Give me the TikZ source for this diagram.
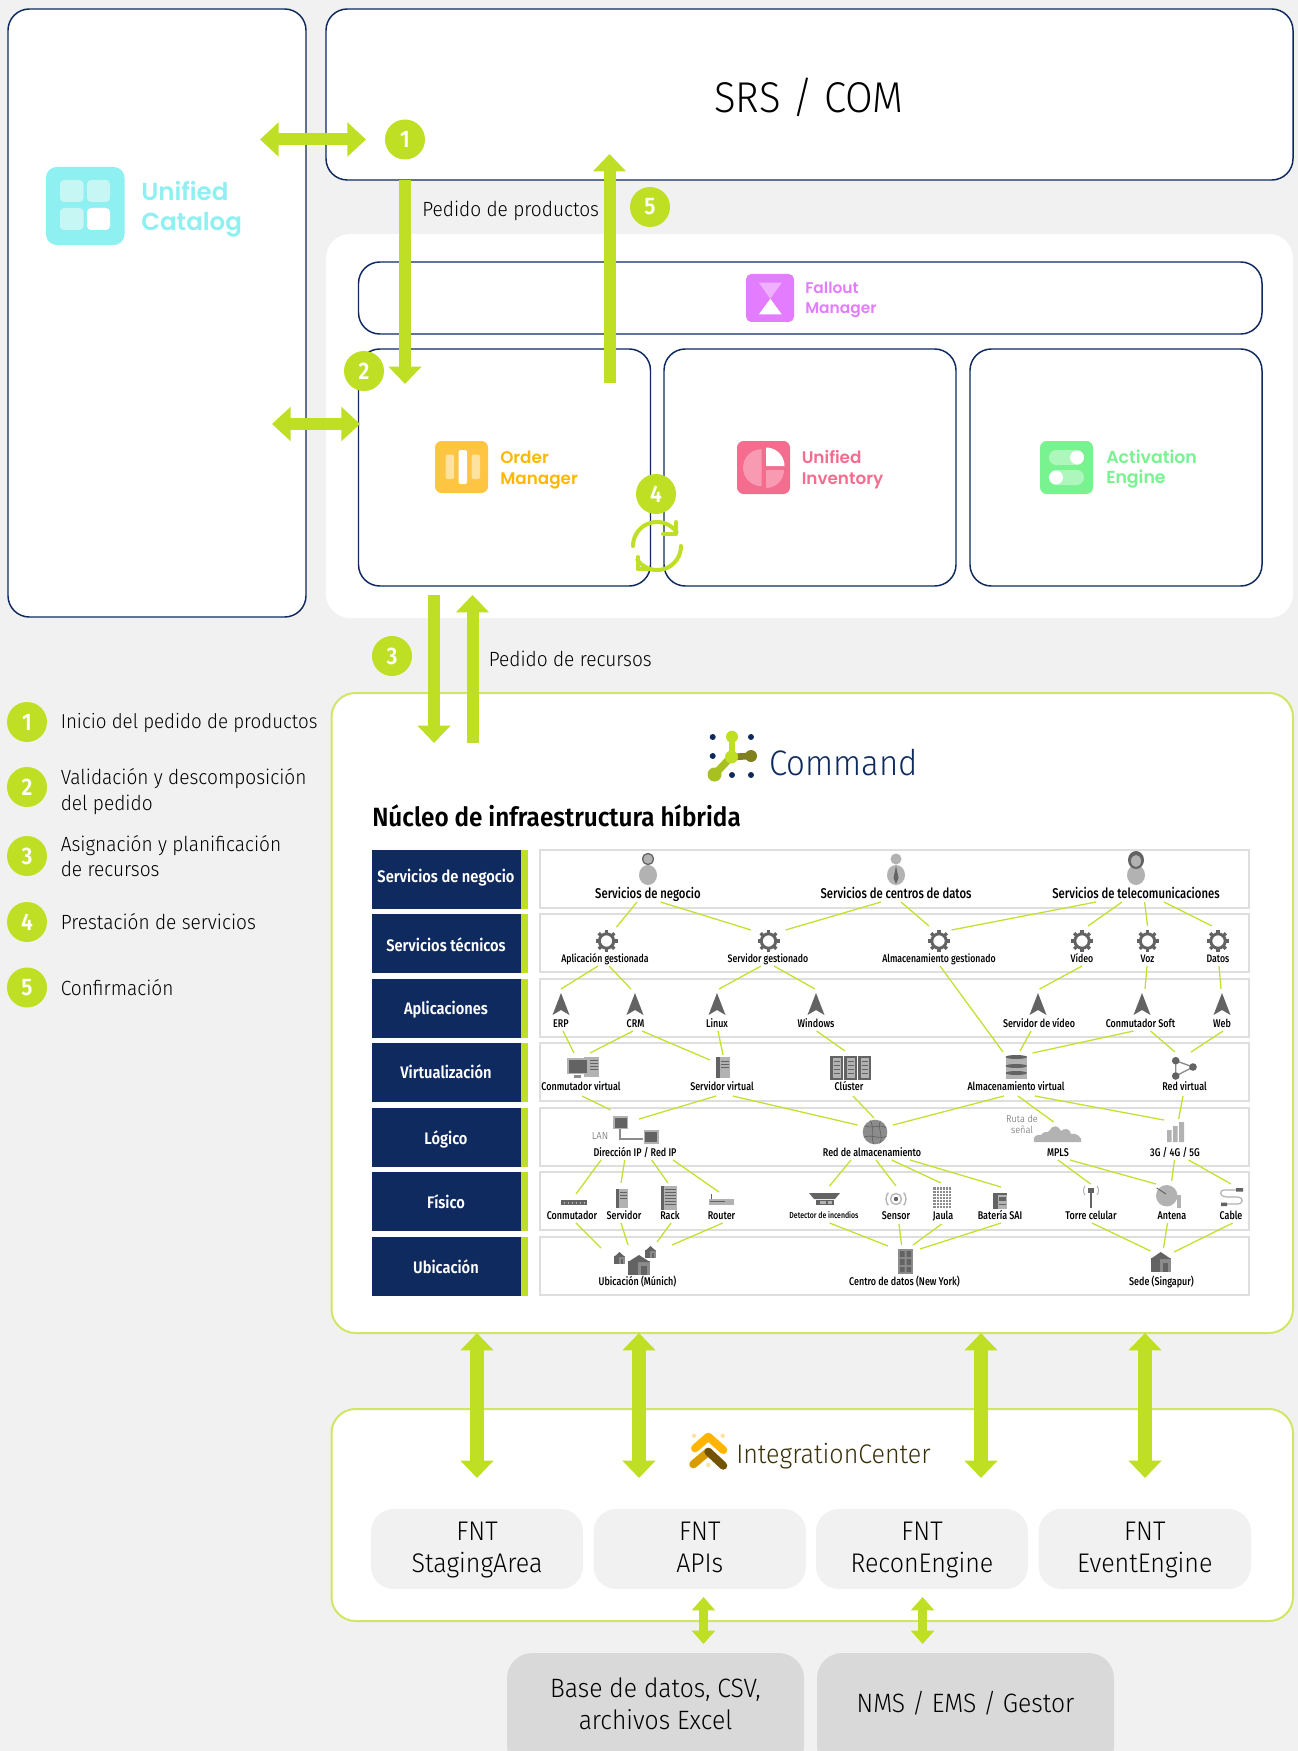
\documentclass[tikz,border=0pt]{standalone}
\usepackage{fontspec}
\usetikzlibrary{arrows.meta,calc}
\setmainfont[FakeStretch=.93]{Fira Sans Light}
\newfontfamily\fb[FakeStretch=.8]{Fira Sans Medium}
\newfontfamily\fh[FakeStretch=.88]{Fira Sans SemiBold}
\newfontfamily\ft[FakeStretch=.92]{Fira Sans SemiBold}
\newfontfamily\pop{Poppins SemiBold}
\definecolor{bgc}{HTML}{F1F1F1}
\definecolor{navy}{HTML}{0F2A5F}
\definecolor{lime}{HTML}{BEDF23}
\definecolor{limeb}{HTML}{CFE763}
\definecolor{linec}{HTML}{C3E02E}
\definecolor{rowb}{HTML}{DEDEDE}
\definecolor{gD}{HTML}{636363}
\definecolor{gM}{HTML}{8C8C8C}
\definecolor{gL}{HTML}{B2B2B2}
\definecolor{cat}{HTML}{8EF0F0}
\definecolor{catp}{HTML}{C6F7F5}
\definecolor{ord}{HTML}{FDC542}
\definecolor{ordt}{HTML}{FFB800}
\definecolor{ordp}{HTML}{FDE2A0}
\definecolor{fal}{HTML}{E37CFF}
\definecolor{falp}{HTML}{EEB0FF}
\definecolor{inv}{HTML}{F46D8F}
\definecolor{invp}{HTML}{F79AB2}
\definecolor{act}{HTML}{79F290}
\definecolor{actp}{HTML}{AEF7BC}
\definecolor{olv}{HTML}{80801F}
\definecolor{lmd}{HTML}{A8C020}
\definecolor{ictx}{HTML}{3A3008}
\tikzset{
  panelnavy/.style={rectangle,draw=navy,line width=1.1pt,fill=white,rounded corners=16pt,inner sep=0},
  panelwhite/.style={rectangle,fill=white,rounded corners=18pt,inner sep=0},
  panellime/.style={rectangle,draw=limeb,line width=1.5pt,fill=white,rounded corners=18pt,inner sep=0},
  fntbox/.style={rectangle,fill=bgc,rounded corners=17pt,inner sep=0},
  fnttxt/.style={inner sep=0,align=center,font=\fontsize{20.2}{24}\selectfont},
  extbox/.style={rectangle,fill=black!15,rounded corners=19pt,inner sep=0},
  rowhead/.style={rectangle,fill=navy,inner sep=0},
  rowbody/.style={rectangle,fill=white,draw=rowb,line width=.9pt,inner sep=0},
  badge/.style={circle,fill=lime,minimum size=30pt,inner sep=0,text=white,font=\fh\fontsize{18}{20}\selectfont},
  txt/.style={inner sep=0,anchor=west,font=\fontsize{15.4}{19}\selectfont,align=left,text=black},
  lbl/.style={inner sep=0,anchor=center,text height=6pt,text depth=1.5pt,font=\fb\fontsize{8.4}{10}\selectfont},
  applbl/.style={inner sep=0,anchor=west,align=left},
  lk/.style={draw=linec,line width=.95pt},
  hsarr/.style={draw=lime,line width=9pt,{Triangle[length=14pt,width=25pt]}-{Triangle[length=14pt,width=25pt]}},
  bigarr/.style={draw=lime,line width=10pt,{Triangle[length=13pt,width=24pt]}-{Triangle[length=13pt,width=24pt]}},
  onearr/.style={draw=lime,line width=9pt,-{Triangle[length=13pt,width=24pt]}},
  smallarr/.style={draw=lime,line width=7pt,{Triangle[length=10pt,width=17pt]}-{Triangle[length=10pt,width=17pt]}}
}
\newcommand\bx[7]{\node[#1,minimum width={(#4-#2)*.75pt},minimum height={(#5-#3)*.75pt}] (#6) at ({(#2+#4)/2},{(#3+#5)/2}) {#7};}
\newcommand\lk[6]{\draw[lk] ([shift={(#2,#3)}]#1.center) -- ([shift={(#5,#6)}]#4.center);}
\newcommand\rr[6][1.5pt]{\fill[#6,rounded corners=#1] (#2,#3) rectangle (#4,#5);}
\newcommand\gearic[2]{\begin{scope}[shift={(#1,#2)}]
  \draw[gD,line width=2.2pt] (0,0) circle[radius=7.2];
  \foreach \a in {0,45,...,315}{\draw[gD,line width=2.4pt] ({8*cos(\a)},{8*sin(\a)}) -- ({11*cos(\a)},{11*sin(\a)});}
\end{scope}}
\newcommand\navic[1]{\fill[gD] (#1,993) -- (#1+8.5,1015) -- (#1,1010) -- (#1-8.5,1015) -- cycle;}
\newcommand\house[5]{\fill[gM] (#1,#3) rectangle (#2,#4);
  \fill[gD] (#1,#3) rectangle ({#1+(#2-#1)*.45},#4);
  \fill[gD] ({(#1+#2)/2},{#3-#5}) -- (#2,#3+1) -- (#1,#3+1) -- cycle;
  \fill[gD] ({#1+(#2-#1)*.6},{#3+(#4-#3)*.35}) rectangle ({#1+(#2-#1)*.85},#4);}
\newcommand\sect[6]{\fill[#6] plot[domain=#4:#5,samples=14] ({#1+#3*cos(\x)},{#2-#3*sin(\x)}) -- (#1,#2) -- cycle;}
\begin{document}
\begin{tikzpicture}[x=.75pt,y=-.75pt]
\useasboundingbox (0,0) rectangle (1298,1751);
\clip (0,0) rectangle (1298,1751);
\fill[bgc] (0,0) rectangle (1298,1751);
% panels
\bx{panelnavy}{8}{9}{306}{617}{catalog}{}
\bx{panelnavy}{326}{9}{1293}{180}{srs}{}
\node[inner sep=0,font=\fontsize{32.3}{36}\selectfont] (tsrs) at (809,97) {SRS / COM};
\bx{panelwhite}{326}{234}{1293}{618}{om}{}
\bx{panelnavy}{358.5}{262}{1262}{334}{fallout}{}
\bx{panelnavy}{358.5}{349}{650.5}{586}{order}{}
\bx{panelnavy}{664}{349}{956}{586}{inventory}{}
\bx{panelnavy}{970}{349}{1262}{586}{activation}{}
\bx{panellime}{331.5}{693}{1293}{1333}{command}{}
\bx{panellime}{331.5}{1409}{1293}{1621}{integration}{}
% catalog logo
\rr[8pt]{46}{167}{124.5}{245}{cat}
\rr[3pt]{60}{180}{83.5}{202}{catp}\rr[3pt]{87}{180}{110}{202}{catp}
\rr[3pt]{60}{208}{83.5}{230}{catp}\rr[3pt]{87}{208}{110}{230}{white}
\node[applbl,text=cat,font=\pop\fontsize{18.4}{22.6}\selectfont] (tcat) at (141,209.5) {Unified\\Catalog};
% fallout logo
\rr[4pt]{746}{274}{794}{322}{fal}
\fill[falp] (758.8,282.7) -- (781.8,282.7) -- (770.3,298.7) -- cycle;
\fill[white] (770.3,298.7) -- (781.8,314.5) -- (758.8,314.5) -- cycle;
\node[applbl,text=fal,font=\pop\fontsize{11.6}{14.6}\selectfont] (tfal) at (805,300) {Fallout\\Manager};
% order logo
\rr[5pt]{435}{441}{488}{493}{ord}
\rr[1.5pt]{445.5}{454.5}{454}{479}{ordp}\rr[1.5pt]{458.5}{450}{467}{484}{white}\rr[1.5pt]{471.5}{454.5}{480}{479}{ordp}
\node[applbl,text=ordt,font=\pop\fontsize{12.6}{15.4}\selectfont] (tord) at (500,470) {Order\\Manager};
% inventory logo
\rr[5pt]{737}{441}{790}{494}{inv}
\sect{761.5}{467.7}{18.5}{90}{270}{invp}
\sect{766}{466}{18.5}{0}{90}{white}
\sect{766}{470}{18}{-90}{0}{invp}
\node[applbl,text=inv,font=\pop\fontsize{12.6}{15.4}\selectfont] (tinv) at (801.5,469.5) {Unified\\Inventory};
% activation logo
\rr[5pt]{1040}{441}{1093}{494}{act}
\rr[5.5pt]{1049}{450}{1084}{465}{actp}\fill[white] (1077,457.5) circle[radius=7];
\rr[5.5pt]{1049}{470}{1084}{485}{actp}\fill[white] (1056,477.5) circle[radius=7];
\node[applbl,text=act,font=\pop\fontsize{13}{15.4}\selectfont] (tact) at (1106,469) {Activation\\Engine};
% command logo
\fill[navy] (712.7,737) circle[radius=3] (751,737) circle[radius=3] (712.7,756) circle[radius=3] (732,775) circle[radius=3] (751,775) circle[radius=3];
\draw[line width=5pt,line cap=round,color=olv] (733,757) -- (749,756);
\fill[olv] (751,756) circle[radius=6];
\draw[line width=5.5pt,line cap=round,color=lmd] (731,757) -- (716,773);
\fill[lmd] (714.5,774.5) circle[radius=7];
\draw[line width=4.5pt,line cap=round,color=lime] (732,738) -- (732,757);
\fill[lime] (732,736.7) circle[radius=6] (731.5,757) circle[radius=6.5];
\node[inner sep=0,anchor=west,text=navy,font=\fontsize{26.6}{30}\selectfont] (tcmd) at (769,763) {Command};
\node[inner sep=0,anchor=west,font=\ft\fontsize{19.8}{22}\selectfont] (ttl) at (372,816) {Núcleo de infraestructura híbrida};
% table
\foreach \nm/\tt/\yA/\yB/\yC in {a/Servicios de negocio/850/909/878,b/Servicios técnicos/914/973/945,c/Aplicaciones/979/1038/1010,d/Virtualización/1043/1102/1072,e/Lógico/1108/1167/1139,f/Físico/1172/1231/1202,g/Ubicación/1237/1296/1267}{
  \bx{rowbody}{540}{\yA}{1249}{\yB-1}{body\nm}{}
  \bx{rowhead}{372}{\yA}{521}{\yB}{head\nm}{}
  \fill[lime] (521,\yA) rectangle (528,\yB);
  \node[inner sep=0,text=white,font=\fh\fontsize{12.5}{14}\selectfont] (txt\nm) at (446,\yC) {\tt};
}
% row 1 icons
\foreach \px in {648,896,1136}{\fill[gL] (\px,875) ellipse[x radius=9,y radius=10];}
\fill[gL] (648,859) circle[radius=6]; \draw[gD,line width=.9pt] (648,859) circle[radius=5.5];
\fill[gL] (896,859) circle[radius=5.5]; \fill[gD] (896,866) -- (898.5,878) -- (896,884) -- (893.5,878) -- cycle;
\fill[gD] (1136,860) ellipse[x radius=8,y radius=9]; \fill[gL] (1136,861) ellipse[x radius=5,y radius=6];
% row 2 gears
\foreach \px in {606.5,768.5,939,1082,1147.5,1218}{\gearic{\px}{941}}
% row 3 arrows
\foreach \px in {561,635,717,816,1038,1142,1222}{\navic{\px}}
% row 4 icons
\fill[gL] (584,1057) rectangle (599,1077); \foreach \yy in {1060,1063,1066,1069}{\draw[gD,line width=.5pt] (590,\yy) -- (598,\yy);}
\fill[gL] (567,1058) rectangle (589,1074); \fill[gD] (569,1060) rectangle (587,1073);\fill[gM] (574,1075) rectangle (581,1078);
\fill[gL] (716,1057) rectangle (730,1078); \fill[gD] (716,1057) rectangle (720,1078); \draw[gD,line width=.6pt] (721,1061) -- (729,1061) (721,1064) -- (729,1064) (721,1067) -- (729,1067);
\foreach \px in {829.5,843.5,857.5}{\fill[gD] (\px,1056) rectangle (\px+13,1080); \fill[gL] (\px+3,1058) rectangle (\px+11,1078); \foreach \yy in {1061,1065,1069,1073}{\draw[gD,line width=.5pt] (\px+4,\yy) -- (\px+10,\yy);}}
\fill[gL] (1005.5,1056) rectangle (1027,1079);
\foreach \yy in {1057,1066,1073}{\fill[gD] (1016.25,\yy) ellipse[x radius=10.7,y radius=2];}
\draw[gM,line width=1pt] (1175.7,1060.7) -- (1193,1067) -- (1175.7,1076) -- cycle;
\fill[gD] (1175.7,1060.7) circle[radius=3.8] (1193,1067) circle[radius=3.8] (1175.7,1076) circle[radius=3.8];
% row 5 icons
\draw[gM,line width=1pt] (620,1129) -- (620,1139) -- (643,1139);
\fill[gL] (613,1116) rectangle (628,1129); \fill[gD] (614.5,1117.5) rectangle (626.5,1127.5);
\fill[gL] (643.5,1130) rectangle (659,1144); \fill[gD] (645,1131.5) rectangle (657,1141.5);
\node[inner sep=0,text=gD,font=\fontsize{7.7}{8}\selectfont] (tlan) at (600,1136) {LAN};
\fill[gM] (875,1132) circle[radius=12.3];
\begin{scope}\clip (875,1132) circle[radius=12.3];
\draw[gD,line width=.5pt] (863,1125) .. controls (872,1130) and (880,1123) .. (886,1128) (864,1137) .. controls (872,1134) and (880,1140) .. (887,1136) (870,1120) .. controls (875,1128) and (870,1136) .. (874,1145) (881,1120) .. controls (876,1128) and (885,1136) .. (879,1145);
\end{scope}
\node[inner sep=0,align=center,text=gD,font=\fontsize{7.4}{8.6}\selectfont] (truta) at (1022,1124.5) {Ruta de\\señal};
\fill[gL] (1034,1142) .. controls (1032,1136) and (1038,1134) .. (1041,1135) .. controls (1044,1130) and (1048,1134) .. (1050,1130) .. controls (1053,1124) and (1059,1126) .. (1061,1131) .. controls (1064,1128) and (1070,1128) .. (1071,1134) .. controls (1076,1132) and (1083,1138) .. (1081,1142) -- cycle;
\fill[gL] (1167,1130) rectangle (1171.5,1142) (1173,1126) rectangle (1177.5,1142) (1179,1122) rectangle (1184,1142);
% row 6 icons
\fill[gD] (561,1200) rectangle (587,1205);
\foreach \px in {564,568,...,584}{\fill[gL] (\px,1201.5) rectangle (\px+1.4,1204);}
\fill[gL] (616,1189) rectangle (628,1208); \fill[gD] (616,1189) rectangle (619,1208); \draw[gD,line width=.6pt] (620,1192) -- (627,1192) (620,1195) -- (627,1195) (620,1198) -- (627,1198);
\fill[gL] (660.5,1186) rectangle (677,1210); \fill[gD] (660.5,1186) rectangle (664,1210); \foreach \yy in {1189,1192,...,1204}{\draw[gD,line width=.5pt] (665,\yy) -- (676,\yy);}
\fill[gL] (709,1199) rectangle (734,1205); \draw[gD,line width=.7pt] (710,1201) -- (725,1201) (711,1194) -- (711,1199);
\fill[gD] (809,1193) -- (840,1193) -- (835,1199) -- (814,1199) -- cycle; \fill[gD] (816,1200) rectangle (834,1205); \fill[gL] (820,1201) rectangle (826,1204);\fill[gL] (828,1201) rectangle (832,1204);
\fill[gD] (896,1199) circle[radius=2.2];
\draw[gL,line width=1pt] (896,1199) circle[radius=5.5];
\begin{scope}\clip (885,1190) -- (896,1199) -- (885,1208) -- cycle; \draw[gL,line width=1pt] (896,1199) circle[radius=10]; \end{scope}
\begin{scope}\clip (907,1190) -- (896,1199) -- (907,1208) -- cycle; \draw[gL,line width=1pt] (896,1199) circle[radius=10]; \end{scope}
\fill[gM] (933,1187) rectangle (951.5,1209);
\foreach \px in {936,939,...,951}{\draw[white,line width=.3pt] (\px,1187) -- (\px,1209);}
\foreach \yy in {1190,1193,...,1208}{\draw[white,line width=.3pt] (933,\yy) -- (951.5,\yy);}
\fill[gD] (993,1193) rectangle (1007,1209); \fill[gL] (998,1195) rectangle (1007,1209); \fill[gD] (999,1197) rectangle (1006,1201);\draw[gD,line width=.5pt] (999,1204) -- (1006,1204);
\fill[gD] (1090,1188) rectangle (1092,1208); \fill[gD] (1088,1188) rectangle (1094,1193);
\draw[gL,line width=.7pt] (1085,1186) .. controls (1083,1188) and (1083,1193) .. (1085,1195) (1097,1186) .. controls (1099,1188) and (1099,1193) .. (1097,1195);
\fill[gL] (1177,1195) rectangle (1181,1208);
\fill[gL] (1166.7,1195.7) circle[radius=10.7];
\draw[gD,line width=.7pt] (1156.7,1188) -- (1166,1194);
\draw[gL,line width=.9pt] (1240,1190) -- (1225,1190) .. controls (1218,1190) and (1220,1197) .. (1226,1197) -- (1237,1197) .. controls (1244,1197) and (1244,1204) .. (1237,1204) -- (1226,1204);
\fill[gD] (1236,1188) rectangle (1243,1191.5) (1221,1202.5) rectangle (1227,1206);
% row 7 icons
\house{614}{625}{1256}{1264}{4}
\house{645}{656}{1250}{1258}{4}
\house{628}{650}{1261}{1275}{6}
\fill[gM] (898,1249) rectangle (913,1274); \fill[gD] (900,1251) rectangle (904.5,1257) (906.5,1251) rectangle (911,1257) (900,1259) rectangle (904.5,1265) (906.5,1259) rectangle (911,1265) (900,1267) rectangle (904.5,1272) (906.5,1267) rectangle (911,1272);
\house{1150.5}{1171}{1258}{1272}{6}
% row labels
\node[lbl,font=\fb\fontsize{10.6}{12}\selectfont] (SN) at (648,895) {Servicios de negocio};
\node[lbl,font=\fb\fontsize{10.6}{12}\selectfont] (SC) at (896,895) {Servicios de centros de datos};
\node[lbl,font=\fb\fontsize{10.6}{12}\selectfont] (ST) at (1136,895) {Servicios de telecomunicaciones};
\node[lbl,font=\fb\fontsize{8.2}{9}\selectfont] (AG) at (605,959) {Aplicación gestionada};
\node[lbl,font=\fb\fontsize{8.2}{9}\selectfont] (SG) at (768,959) {Servidor gestionado};
\node[lbl,font=\fb\fontsize{8.2}{9}\selectfont] (AL) at (939,959) {Almacenamiento gestionado};
\node[lbl,font=\fb\fontsize{8.2}{9}\selectfont] (VI) at (1082,959) {Vídeo};
\node[lbl,font=\fb\fontsize{8.2}{9}\selectfont] (VO) at (1147.5,959) {Voz};
\node[lbl,font=\fb\fontsize{8.2}{9}\selectfont] (DA) at (1218,959) {Datos};
\node[lbl] (ERP) at (561,1024) {ERP};
\node[lbl] (CRM) at (635.5,1024) {CRM};
\node[lbl] (LI) at (717,1024) {Linux};
\node[lbl] (WI) at (816,1024) {Windows};
\node[lbl] (SVD) at (1039,1024) {Servidor de vídeo};
\node[lbl] (CS) at (1140.5,1024) {Conmutador Soft};
\node[lbl] (WE) at (1222,1024) {Web};
\node[lbl] (CV) at (581,1087) {Conmutador virtual};
\node[lbl] (SV) at (722,1087) {Servidor virtual};
\node[lbl] (CL) at (849,1087) {Clúster};
\node[lbl] (AV) at (1016,1087) {Almacenamiento virtual};
\node[lbl] (RV) at (1184.5,1087) {Red virtual};
\node[lbl] (IP) at (635,1153) {Dirección IP / Red IP};
\node[lbl] (RA) at (872,1153) {Red de almacenamiento};
\node[lbl] (MP) at (1058,1153) {MPLS};
\node[lbl] (GC) at (1175,1153) {3G / 4G / 5G};
\node[lbl] (CO) at (572,1216) {Conmutador};
\node[lbl] (SE) at (624,1216) {Servidor};
\node[lbl] (RK) at (670,1216) {Rack};
\node[lbl] (RO) at (721.5,1216) {Router};
\node[lbl,font=\fb\fontsize{6.5}{8}\selectfont] (DI) at (824,1215) {Detector de incendios};
\node[lbl] (SS) at (896,1216) {Sensor};
\node[lbl] (JA) at (943,1216) {Jaula};
\node[lbl] (BA) at (1000,1216) {Batería SAI};
\node[lbl] (TO) at (1091,1216) {Torre celular};
\node[lbl] (AN) at (1172,1216) {Antena};
\node[lbl] (CA) at (1231,1216) {Cable};
\node[lbl] (MU) at (637.5,1282) {Ubicación (Múnich)};
\node[lbl] (NY) at (904.5,1282) {Centro de datos (New York)};
\node[lbl] (SI) at (1161.5,1282) {Sede (Singapur)};
% connectors
\lk{SN}{-11}{7}{AG}{11.5}{-32}
\lk{SN}{12.5}{7}{SG}{-17}{-29}
\lk{SC}{-15}{7}{SG}{17.5}{-29}
\lk{SC}{5}{7}{AL}{-10}{-33}
\lk{ST}{-40}{7}{AL}{12.5}{-29}
\lk{ST}{-14}{7}{VI}{6}{-33}
\lk{ST}{8.6}{7}{VO}{0}{-33}
\lk{ST}{28}{7}{DA}{-6}{-33}
\lk{AG}{-7}{7}{ERP}{0}{-35}
\lk{AG}{4}{7}{CRM}{-4.5}{-35}
\lk{SG}{-7}{7}{LI}{2}{-35}
\lk{SG}{6}{7}{WI}{-1}{-35}
\lk{AL}{1}{7}{AV}{-13}{-35}
\lk{VI}{0}{7}{SVD}{.6}{-35}
\lk{VO}{-.5}{7}{CS}{4.5}{-35}
\lk{DA}{1}{7}{WE}{-1}{-35}
\lk{ERP}{2}{7}{CV}{-7}{-34}
\lk{CRM}{-2.5}{7}{CV}{9}{-34}
\lk{CRM}{6.5}{7}{SV}{-12}{-27}
\lk{LI}{1}{7}{SV}{1}{-32}
\lk{WI}{.6}{7}{CL}{-4}{-36}
\lk{SVD}{-8}{7}{AV}{4}{-36}
\lk{CS}{-7}{7}{AV}{16.5}{-34}
\lk{CS}{10}{7}{RV}{-9.5}{-35}
\lk{WE}{1}{7}{RV}{6.5}{-35}
\lk{CV}{1}{9}{IP}{-24.4}{-43}
\lk{SV}{-6}{9}{IP}{4}{-34}
\lk{SV}{10.7}{9}{RA}{-14.4}{-28}
\lk{CL}{4}{9}{RA}{2}{-35}
\lk{AV}{-12}{9}{RA}{21}{-28}
\lk{AV}{2}{9}{MP}{-4.4}{-31}
\lk{AV}{19}{9}{GC}{-11}{-33}
\lk{RV}{-1.5}{9}{GC}{3.6}{-34}
\lk{IP}{-34}{7}{CO}{4}{-22}
\lk{IP}{-10.3}{7}{SE}{-3}{-33}
\lk{IP}{16.7}{7}{RK}{-2}{-33}
\lk{IP}{38}{7}{RO}{-2.5}{-24}
\lk{RA}{-21}{7}{DI}{5.5}{-29}
\lk{RA}{4}{7}{SS}{0}{-30}
\lk{RA}{19.7}{7}{JA}{-2}{-33}
\lk{RA}{38}{7}{BA}{1}{-29}
\lk{MP}{0}{7}{TO}{-.4}{-32}
\lk{MP}{12}{7}{AN}{-16}{-32}
\lk{GC}{-.5}{7}{AN}{-.4}{-35}
\lk{GC}{13.6}{7}{CA}{0}{-32}
\lk{CO}{4}{7}{MU}{-36.5}{-34}
\lk{SE}{-3}{7}{MU}{-9.5}{-37}
\lk{RK}{1}{7}{MU}{19.5}{-40}
\lk{RO}{1.2}{7}{MU}{34.5}{-37}
\lk{DI}{5.5}{8}{NY}{-16.5}{-36}
\lk{SS}{3}{8}{NY}{-3}{-37}
\lk{JA}{-1.4}{8}{NY}{8.5}{-37}
\lk{BA}{1}{7}{NY}{15.5}{-33}
\lk{TO}{1}{7}{SI}{-11}{-31}
\lk{AN}{-4.5}{7}{SI}{2}{-34}
\lk{CA}{1.7}{7}{SI}{12.5}{-30}
% integration center
\draw[line width=6pt,line cap=round,line join=round,color=ordt!95!orange] (695,1448.3) -- (708.3,1436.7) -- (723.3,1450);
\draw[line width=6pt,line cap=round,color=ordt!85!black] (693.3,1464.3) -- (708.3,1451.7);
\draw[line width=6pt,line cap=round,color=ordt!45!black] (708.3,1451.7) -- (723.3,1465.7);
\fill[ordp] (694,1435.7) circle[radius=2.2] (722.7,1435.7) circle[radius=2.2] (708.3,1465) circle[radius=2.2];
\node[inner sep=0,anchor=west,text=ictx,font=\fontsize{20.2}{24}\selectfont] (tint) at (736,1456) {IntegrationCenter};
\bx{fntbox}{371}{1509}{583}{1589}{fnt1}{}
\bx{fntbox}{593.6}{1509}{806}{1589}{fnt2}{}
\bx{fntbox}{816}{1509}{1028}{1589}{fnt3}{}
\bx{fntbox}{1038.6}{1509}{1251}{1589}{fnt4}{}
\node[fnttxt] (tf1) at (477,1552) {FNT\\StagingArea\strut};
\node[fnttxt] (tf2) at (699.8,1552) {FNT\\APIs\strut};
\node[fnttxt] (tf3) at (922,1552) {FNT\\ReconEngine\strut};
\node[fnttxt] (tf4) at (1144.8,1552) {FNT\\EventEngine\strut};
\bx{extbox}{507}{1653}{804}{1771}{ext1}{}
\bx{extbox}{817}{1653}{1114}{1771}{ext2}{}
\node[inner sep=0,align=center,font=\fontsize{19.9}{24}\selectfont] (text1) at (655.5,1703.5) {Base de datos, CSV,\\archivos Excel};
\node[inner sep=0,font=\fontsize{19.9}{24}\selectfont] (text2) at (965.5,1703.5) {NMS / EMS / Gestor};
% arrow ends
\coordinate (a1L) at (260,139.5); \coordinate (a1R) at (366,139.5);
\coordinate (a2L) at (272,424); \coordinate (a2R) at (360,424);
\coordinate (d1a) at (405,180); \coordinate (d1b) at (405,384);
\coordinate (u5a) at (609.5,383); \coordinate (u5b) at (609.5,154);
\coordinate (d3a) at (434,595); \coordinate (d3b) at (434,743);
\coordinate (u3a) at (472.5,743); \coordinate (u3b) at (472.5,595);
\coordinate (v1a) at (477,1333); \coordinate (v1b) at (477,1478);
\coordinate (v2a) at (639,1333); \coordinate (v2b) at (639,1478);
\coordinate (v3a) at (981,1333); \coordinate (v3b) at (981,1478);
\coordinate (v4a) at (1145,1333); \coordinate (v4b) at (1145,1478);
\coordinate (s1a) at (703.5,1597); \coordinate (s1b) at (703.5,1644);
\coordinate (s2a) at (922.6,1597); \coordinate (s2b) at (922.6,1644);
\draw[hsarr] (a1L) -- (a1R);
\draw[hsarr] (a2L) -- (a2R);
\draw[onearr] (d1a) -- (d1b);
\draw[onearr] (u5a) -- (u5b);
\draw[onearr] (d3a) -- (d3b);
\draw[onearr] (u3a) -- (u3b);
\draw[bigarr] (v1a) -- (v1b);
\draw[bigarr] (v2a) -- (v2b);
\draw[bigarr] (v3a) -- (v3b);
\draw[bigarr] (v4a) -- (v4b);
\draw[smallarr] (s1a) -- (s1b);
\draw[smallarr] (s2a) -- (s2b);
% cycle icon
\draw[lime,line width=3pt,line cap=round] plot[domain=180:35,samples=24] ({657+24*cos(\x)},{546-24*sin(\x)});
\draw[lime,line width=3pt,line cap=round,line join=round] (676,522) -- (676,534) -- (663,534);
\draw[lime,line width=3pt,line cap=round] plot[domain=0:-145,samples=24] ({657+24*cos(\x)},{546-24*sin(\x)});
\draw[lime,line width=3pt,line cap=round,line join=round] (637.5,557) -- (637.5,569) -- (651,569);
% texts
\node[txt] (tpp) at (422,211) {Pedido de productos};
\node[txt] (tpr) at (488.5,658.5) {Pedido de recursos};
% badges
\node[badge] (b1) at (405,139.5) {1};
\node[badge] (b5) at (650,207) {5};
\node[badge] (b2) at (364,371) {2};
\node[badge] (b4) at (656,494) {4};
\node[badge] (b3) at (392,656) {3};
\node[badge] (l1) at (27,722) {1};
\node[badge] (l2) at (27,787) {2};
\node[badge] (l3) at (27,856) {3};
\node[badge] (l4) at (27,922) {4};
\node[badge] (l5) at (27,987.5) {5};
\node[txt,font=\fontsize{15.1}{19}\selectfont] (t1) at (60.5,722.5) {Inicio del pedido de productos};
\node[txt] (t2) at (60.5,791.5) {Validación y descomposición\\del pedido};
\node[txt] (t3) at (60.5,856) {Asignación y planificación\\de recursos};
\node[txt] (t4) at (60.5,921.5) {Prestación de servicios};
\node[txt] (t5) at (60.5,987.5) {Confirmación};
\end{tikzpicture}
\end{document}
